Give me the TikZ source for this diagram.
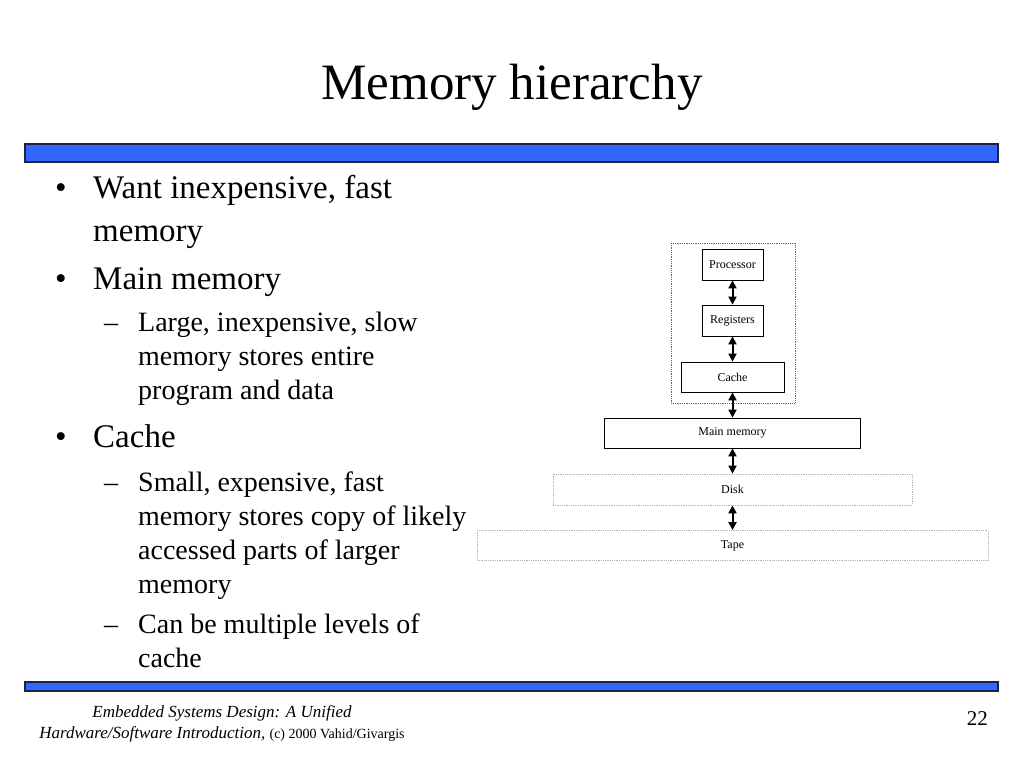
\documentclass[tikz,border=0pt]{standalone}
\usepackage{fontspec}
\setmainfont{Liberation Serif}
\usetikzlibrary{arrows.meta, positioning}

\definecolor{barblue}{RGB}{51,102,255}
\definecolor{barline}{RGB}{32,32,64}

\tikzset{
  bullet/.style={anchor=base, inner sep=0pt, font=\fontsize{33}{36}\selectfont},
  dashmark/.style={anchor=base, inner sep=0pt, font=\fontsize{28}{34}\selectfont},
  bigitem/.style={anchor=base west, inner sep=0pt, font=\fontsize{33}{36}\selectfont},
  subitem/.style={anchor=base west, inner sep=0pt, font=\fontsize{28}{34}\selectfont},
  bar/.style={fill=barblue, draw=barline, line width=1.5pt},
  membox/.style={draw, line width=0.8pt, minimum height=31pt, inner sep=0pt,
    font=\fontsize{12}{14}\selectfont},
  farbox/.style={membox, draw=gray!60, densely dotted},
  link/.style={{Triangle[width=8pt,length=8pt]}-{Triangle[width=8pt,length=8pt]}, line width=2pt}
}

\begin{document}
\begin{tikzpicture}[x=1pt, y=-1pt]
  \useasboundingbox (0,0) rectangle (1024,768);

  \node[anchor=base, inner sep=0pt, font=\fontsize{51}{56}\selectfont] (title) at (512,99) {Memory hierarchy};

  \draw[bar] (25,144) rectangle (998,162);
  \draw[bar] (25,682) rectangle (998,691);

  % bullets
  \foreach \y in {198,289,447}
    \node[bullet] at (61,\y) {•};
  \foreach \y in {331,491,633}
    \node[dashmark] at (111,\y) {–};

  \foreach \y/\txt in {198/{Want inexpensive, fast}, 241/memory, 289/{Main memory}, 447/Cache}
    \node[bigitem] at (93,\y) {\txt};

  \foreach \y/\txt in {331/{Large, inexpensive, slow}, 365/{memory stores entire},
      399/{program and data}, 491/{Small, expensive, fast},
      525/{memory stores copy of likely}, 559/{accessed parts of larger},
      593/memory, 633/{Can be multiple levels of}, 667/cache}
    \node[subitem] at (138,\y) {\txt};

  % the hierarchy
  \node[membox, minimum width=61pt] (processor) at (732.5,264.5) {Processor};
  \node[membox, minimum width=61pt] (registers) at (732.5,320.5) {Registers};
  \node[membox, minimum width=103pt, minimum height=30pt] (cache) at (732.5,377) {Cache};
  \node[membox, minimum width=256pt, minimum height=30pt] (mainmem) at (732.5,433) {Main memory};
  \node[farbox, minimum width=359pt] (disk) at (732.5,489.5) {Disk};
  \node[farbox, minimum width=511pt, minimum height=30pt] (tape) at (732.5,545.5) {Tape};

  \draw[densely dotted, draw=gray!80!black, line width=0.8pt] (671,243) rectangle (795,403);

  \draw[link] (processor) -- (registers);
  \draw[link] (registers) -- (cache);
  \draw[link] (cache) -- (mainmem);
  \draw[link] (mainmem) -- (disk);
  \draw[link] (disk) -- (tape);

  % footer
  \node[anchor=base, inner sep=0pt, font=\fontsize{17}{20}\selectfont\itshape] (book) at (222,717)
    {Embedded Systems Design: A Unified};
  \node[anchor=base, inner sep=0pt, font=\fontsize{17}{20}\selectfont] (credit) at (222,738)
    {\itshape Hardware/Software Introduction,\upshape\ {\fontsize{14}{16}\selectfont(c) 2000 Vahid/Givargis}};
  \node[anchor=base east, inner sep=0pt, font=\fontsize{21}{24}\selectfont] (page) at (988,725) {22};
\end{tikzpicture}
\end{document}
